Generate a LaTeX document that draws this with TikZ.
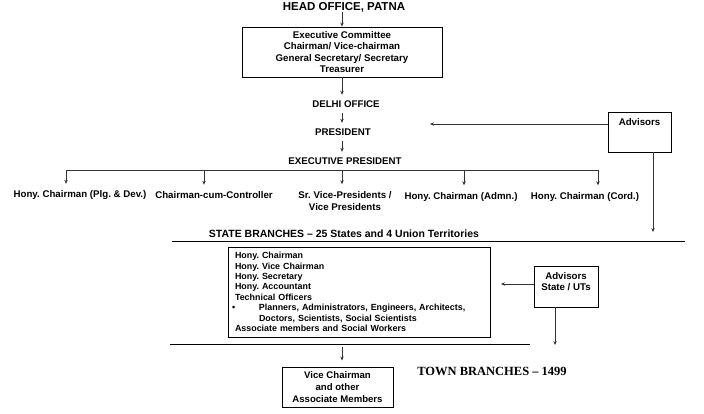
\documentclass[tikz,border=0pt]{standalone}
\usepackage{fontspec}
\setmainfont{Liberation Sans}
\newfontfamily\townfont{Liberation Serif}
\usetikzlibrary{positioning,arrows.meta}
\frenchspacing

\begin{document}
\begin{tikzpicture}[
      x=1pt, y=-1pt,
      txt/.style={font=\bfseries\fontsize{9.7}{11.3}\selectfont},
      chain/.style={txt, inner xsep=0pt, inner ysep=5.5pt, text height=7pt, text depth=0pt},
      rowlbl/.style={txt, inner xsep=0pt, inner ysep=7pt, align=center},
      box/.style={draw, line width=0.9pt, txt, align=center, inner sep=2pt},
      link/.style={draw=black!80, line width=0.8pt},
      arrow/.style={link, -{Stealth[length=4pt, width=3.4pt]}},
      rule/.style={draw=black, line width=1pt}
  ]
  \useasboundingbox (0,0) rectangle (704,413);
  % Nodes
  \node[font=\bfseries\fontsize{11.5}{13}\selectfont, inner sep=0pt] (head) at (344,7) {HEAD OFFICE, PATNA};
  \node[box, minimum width=200pt, minimum height=50pt] (exec) at (342,52) {Executive Committee\\Chairman/ Vice-chairman\\General Secretary/ Secretary\\Treasurer};
  \node[chain] (delhi) at (346,104) {DELHI OFFICE};
  \node[chain] (pres) at (343,132) {PRESIDENT};
  \node[chain] (exp) at (345,161) {EXECUTIVE PRESIDENT};
  \node[box, minimum width=63pt, minimum height=40pt,
        label={[txt, anchor=north, inner sep=0pt, yshift=-6.4pt]north:Advisors}] (adv) at (639.5,132) {};
  \node[rowlbl] (plg) at (80,195.5) {Hony. Chairman (Plg. \& Dev.)};
  \node[rowlbl] (ctl) at (214,195.5) {Chairman-cum-Controller};
  \node[rowlbl, font=\bfseries\fontsize{9.7}{12}\selectfont] (vp) at (345,201) {Sr. Vice-Presidents /\\Vice Presidents};
  \node[rowlbl] (adm) at (461,197) {Hony. Chairman (Admn.)};
  \node[rowlbl] (crd) at (585,197) {Hony. Chairman (Cord.)};
  \node[font=\bfseries\fontsize{10.5}{12}\selectfont, inner sep=0pt] (sb) at (344,234) {STATE BRANCHES – 25 States and 4 Union Territories};
  \node[box, font=\bfseries\fontsize{8.9}{10.43}\selectfont, align=left, text width=248pt, inner xsep=7pt, minimum height=90pt] (state) at (359,292) {Hony. Chairman\\Hony. Vice Chairman\\Hony. Secretary\\Hony. Accountant\\Technical Officers\\\hspace*{-3pt}\makebox[27pt][l]{\textbullet}Planners, Administrators, Engineers, Architects,\\\hspace*{24pt}Doctors, Scientists, Social Scientists\\Associate members and Social Workers};
  \node[box, minimum width=64pt, minimum height=41pt,
        label={[txt, font=\bfseries\fontsize{9.7}{11}\selectfont, align=center, anchor=north, inner sep=0pt, yshift=-6.4pt]north:{Advisors\\State / UTs}}] (advs) at (566,286.5) {};
  \node[box, font=\bfseries\fontsize{9.6}{11.8}\selectfont, minimum width=111pt, minimum height=40pt] (townbox) at (337.5,387) {Vice Chairman\\and other\\Associate Members};
  \node[font=\townfont\bfseries\fontsize{12.5}{14}\selectfont, inner sep=0pt] (town) at (492,371) {TOWN BRANCHES – 1499};
  % Coordinates
  \foreach \x [count=\i] in {66,204,342,464,598} \coordinate (t\i) at (\x,170);
  \coordinate (advin) at (430,124);
  \coordinate (advdown) at (653,232);
  \coordinate (sbL) at (172,241);
  \coordinate (sbR) at (685,241);
  \coordinate (advsin) at (501,284);
  \coordinate (advsdown) at (555,345);
  \coordinate (tbL) at (170,344);
  \coordinate (tbR) at (530,344);
  \coordinate (tarr) at (342,347);
  % Arrows
  \draw[arrow] (head.south -| exec.north) -- (exec.north);
  \draw[arrow] (exec.south) -- (exec.south |- delhi.north);
  \draw[arrow] (delhi.south -| exec.south) -- (pres.north -| exec.south);
  \draw[arrow] (pres.south -| exec.south) -- (exp.north -| exec.south);
  \draw[arrow] (adv.west |- advin) -- (advin);
  \draw[link] (t1) -- (t5);
  \foreach \i/\n in {1/plg,2/ctl,3/vp,4/adm,5/crd}
    \draw[arrow] (t\i) -- (t\i |- \n.north);
  \draw[arrow] (adv.south -| advdown) -- (advdown);
  \draw[arrow] (advs.west |- advsin) -- (advsin);
  \draw[arrow] (advs.south -| advsdown) -- (advsdown);
  \draw[arrow, shorten >=6pt] (tarr) -- (tarr |- townbox.north);
  % Branch rules
  \draw[rule] (sbL) -- (sbR);
  \draw[rule] (tbL) -- (tbR);
\end{tikzpicture}
\end{document}
